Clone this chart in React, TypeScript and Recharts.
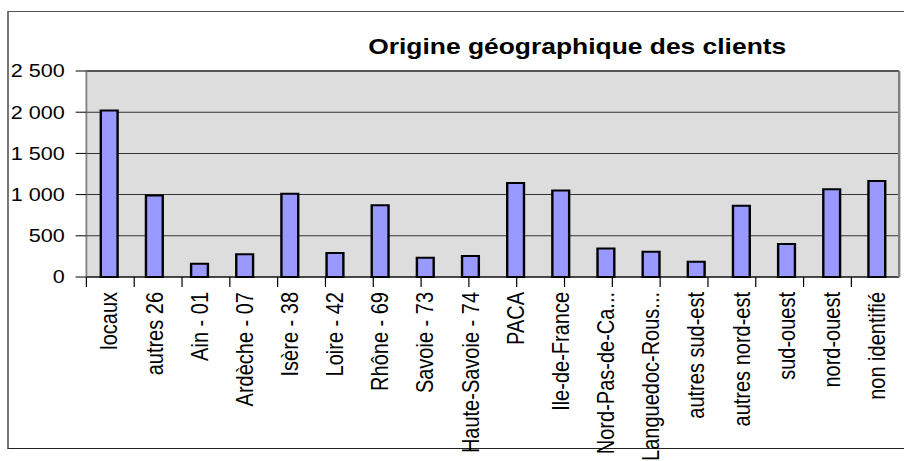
import React from 'react';
import { BarChart, Bar, XAxis, YAxis, CartesianGrid } from 'recharts';

const categories = [
  'locaux', 'autres 26', 'Ain - 01', 'Ardèche - 07', 'Isère - 38', 'Loire - 42',
  'Rhône - 69', 'Savoie - 73', 'Haute-Savoie - 74', 'PACA', 'Ile-de-France',
  'Nord-Pas-de-Ca...', 'Languedoc-Rous...', 'autres sud-est', 'autres nord-est',
  'sud-ouest', 'nord-ouest', 'non identifié',
];
const clients = [2020, 990, 160, 275, 1010, 290, 870, 235, 255, 1140, 1050, 345, 305, 185, 865, 400, 1065, 1165];
const yTicks = [0, 500, 1000, 1500, 2000, 2500];

const title = 'Origine géographique des clients';

// the original picture is stretched horizontally
const SX = 1.2;
const W = 904 / SX;
const H = 461;
const FONT = '"Liberation Sans", Arial, sans-serif';

const data = categories.map((name, i) => ({ name, value: clients[i] }));
const edgeTicks = categories.map((_, i) => i).concat(categories.length);

const fmt = (v: number) => String(v).replace(/\B(?=(\d{3})+(?!\d))/g, ' ');

const XTick = (props: any) => {
  const { x, y, payload } = props;
  return (
    <g transform={`translate(${x},${y})`}>
      <text transform="rotate(-90)" textAnchor="end" dy="0.35em" fontSize={20} fontFamily={FONT} fill="#000">
        {payload.value}
      </text>
    </g>
  );
};

export default function App() {
  return (
    <div style={{ position: 'absolute', left: 0, top: 0, width: 904, height: 461, overflow: 'hidden', background: '#fff' }}>
      <div
        style={{
          position: 'absolute', left: 7, top: 11, width: 920, height: 436,
          borderTop: '1px solid #555', borderLeft: '2px solid #777', borderBottom: '1px solid #222',
        }}
      />
      <div style={{ position: 'absolute', left: 0, top: 0, width: W, height: H, transform: `scaleX(${SX})`, transformOrigin: '0 0' }}>
        <div
          style={{
            position: 'absolute', left: 481 - 300, top: 36, width: 600, textAlign: 'center',
            fontFamily: FONT, fontWeight: 'bold', fontSize: 22, lineHeight: '22px', color: '#000',
          }}
        >
          {title}
        </div>
        <BarChart width={W} height={H} data={data} margin={{ top: 70, right: 3, bottom: 0, left: 6 }}>
          <CartesianGrid xAxisId="b" yAxisId="left" vertical={false} stroke="#333" fill="#DDDDDD" fillOpacity={1} />
          <XAxis
            xAxisId="a"
            type="number"
            domain={[0, categories.length]}
            ticks={edgeTicks}
            allowDataOverflow
            height={1}
            tickSize={10}
            tickFormatter={() => ''}
            axisLine={{ stroke: '#000' }}
            tickLine={{ stroke: '#000' }}
          />
          <XAxis
            xAxisId="b"
            dataKey="name"
            interval={0}
            height={183}
            tickSize={9}
            tickMargin={5}
            tickLine={false}
            axisLine={false}
            tick={<XTick />}
          />
          <XAxis xAxisId="top" orientation="top" height={1} tick={false} tickLine={false} axisLine={{ stroke: '#555', strokeWidth: 2 }} />
          <YAxis
            yAxisId="left"
            width={66}
            domain={[0, 2500]}
            ticks={yTicks}
            tickFormatter={fmt}
            tickSize={9}
            tickMargin={9}
            tick={{ fontSize: 18, fontFamily: FONT, fill: '#000' }}
            tickLine={{ stroke: '#000' }}
            axisLine={{ stroke: '#808080', strokeWidth: 1.5 }}
          />
          <YAxis
            yAxisId="right"
            orientation="right"
            width={1}
            domain={[0, 2500]}
            tick={false}
            tickLine={false}
            axisLine={{ stroke: '#808080', strokeWidth: 2 }}
          />
          <Bar
            xAxisId="b"
            yAxisId="left"
            dataKey="value"
            fill="#9999FF"
            stroke="#000"
            strokeWidth={2}
            barSize={14}
            isAnimationActive={false}
          />
        </BarChart>
      </div>
    </div>
  );
}
